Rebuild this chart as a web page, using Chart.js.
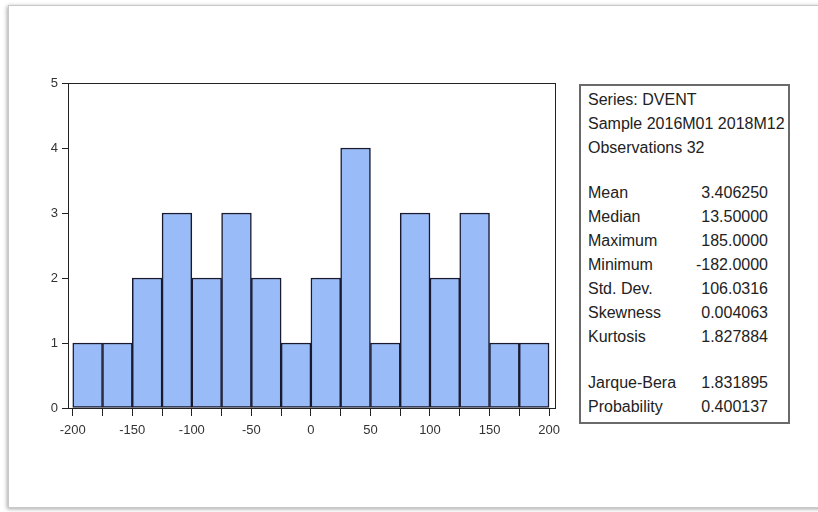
<!DOCTYPE html>
<html>
<head>
<meta charset="utf-8">
<script src="https://cdn.jsdelivr.net/npm/chart.js@4/dist/chart.umd.min.js"></script>
<style>
  html, body { margin: 0; padding: 0; background: #fff; }
  body { width: 818px; height: 512px; position: relative; overflow: hidden; font-family: "Liberation Sans", Arial, sans-serif; }
  #frame { position: absolute; left: 8px; top: 5px; width: 830px; height: 501px; border: 1px solid #c8c8c8; box-shadow: -1px 1px 4px rgba(0,0,0,0.35); background: #fff; }
  #wrap { position: absolute; left: 0; top: 0; width: 818px; height: 512px; }
  #stats { position: absolute; left: 579px; top: 84px; width: 207px; height: 336px; border: 2px solid #6a6a6a; background: #fff; color: #222; font-size: 16px; }
  .row { position: absolute; left: 7px; width: 180px; height: 20px; line-height: 20px; white-space: nowrap; }
  .row .v { position: absolute; right: 0; top: 0; }
</style>
</head>
<body>
<div id="frame"></div>
<div id="wrap"><canvas id="c" width="818" height="512"></canvas></div>
<div id="stats"></div>
<script>
// Bin centres (width 25) and counts
const binCenters = [-187.5, -162.5, -137.5, -112.5, -87.5, -62.5, -37.5, -12.5, 12.5, 37.5, 62.5, 87.5, 112.5, 137.5, 162.5, 187.5];
const counts     = [1, 1, 2, 3, 2, 3, 2, 1, 2, 4, 1, 3, 2, 3, 1, 1];
const xTickValues = [-200, -150, -100, -50, 0, 50, 100, 150, 200];
const yTickValues = [0, 1, 2, 3, 4, 5];

// Descriptive statistics panel
const headerLines = ["Series: DVENT", "Sample 2016M01 2018M12", "Observations 32"];
const statNames  = ["Mean", "Median", "Maximum", "Minimum", "Std. Dev.", "Skewness", "Kurtosis"];
const statValues = ["3.406250", "13.50000", "185.0000", "-182.0000", "106.0316", "0.004063", "1.827884"];
const testNames  = ["Jarque-Bera", "Probability"];
const testValues = ["1.831895", "0.400137"];

const stats = document.getElementById('stats');
function addRow(top, label, value) {
  const r = document.createElement('div');
  r.className = 'row';
  r.style.top = top + 'px';
  r.textContent = label;
  if (value !== undefined) {
    const v = document.createElement('span');
    v.className = 'v';
    v.textContent = value;
    r.appendChild(v);
  }
  stats.appendChild(r);
}
headerLines.forEach((t, i) => addRow(4 + i * 23.8, t));
statNames.forEach((t, i) => addRow(97 + i * 24, t, statValues[i]));
testNames.forEach((t, i) => addRow(287 + i * 24, t, testValues[i]));

// Box around the plotting area
const plotFrame = {
  id: 'plotFrame',
  afterDatasetsDraw(chart) {
    const a = chart.chartArea, ctx = chart.ctx;
    ctx.save();
    ctx.strokeStyle = '#222';
    ctx.lineWidth = 1;
    ctx.strokeRect(Math.round(a.left) + 0.5, Math.round(a.top) + 0.5, Math.round(a.right - a.left), Math.round(a.bottom - a.top));
    ctx.restore();
  }
};

new Chart(document.getElementById('c'), {
  type: 'bar',
  data: {
    datasets: [{
      data: binCenters.map((x, i) => ({ x: x, y: counts[i] })),
      backgroundColor: '#99bbf8',
      borderColor: '#1a1a2e',
      borderWidth: 1.5,
      barPercentage: 1,
      categoryPercentage: 1,
      borderSkipped: false
    }]
  },
  options: {
    responsive: false,
    animation: false,
    layout: { padding: { left: 0, top: 83, right: 263, bottom: 0 } },
    plugins: { legend: { display: false }, tooltip: { enabled: false } },
    scales: {
      x: {
        type: 'linear',
        offset: false,
        min: -204,
        max: 205,
        afterBuildTicks(scale) {
          const t = [];
          for (let v = -200; v <= 200; v += 25) t.push({ value: v });
          scale.ticks = t;
        },
        afterFit(scale) { scale.height = 104; },
        grid: { offset: false, drawOnChartArea: false, drawTicks: true, tickLength: 8, color: '#222', lineWidth: 1 },
        border: { display: true, color: '#222', width: 1 },
        ticks: {
          autoSkip: false,
          maxRotation: 0,
          padding: 7,
          color: '#333',
          font: { family: '"Liberation Sans", Arial, sans-serif', size: 13 },
          callback: (v) => xTickValues.includes(v) ? String(v) : ''
        }
      },
      y: {
        min: 0,
        max: 5,
        afterBuildTicks(scale) { scale.ticks = yTickValues.map(v => ({ value: v })); },
        afterFit(scale) { scale.width = 68; },
        grid: { drawOnChartArea: false, drawTicks: true, tickLength: 6, color: '#222', lineWidth: 1 },
        border: { display: true, color: '#222', width: 1 },
        ticks: {
          padding: 4,
          color: '#333',
          font: { family: '"Liberation Sans", Arial, sans-serif', size: 13 }
        }
      }
    }
  },
  plugins: [plotFrame]
});
</script>
</body>
</html>
